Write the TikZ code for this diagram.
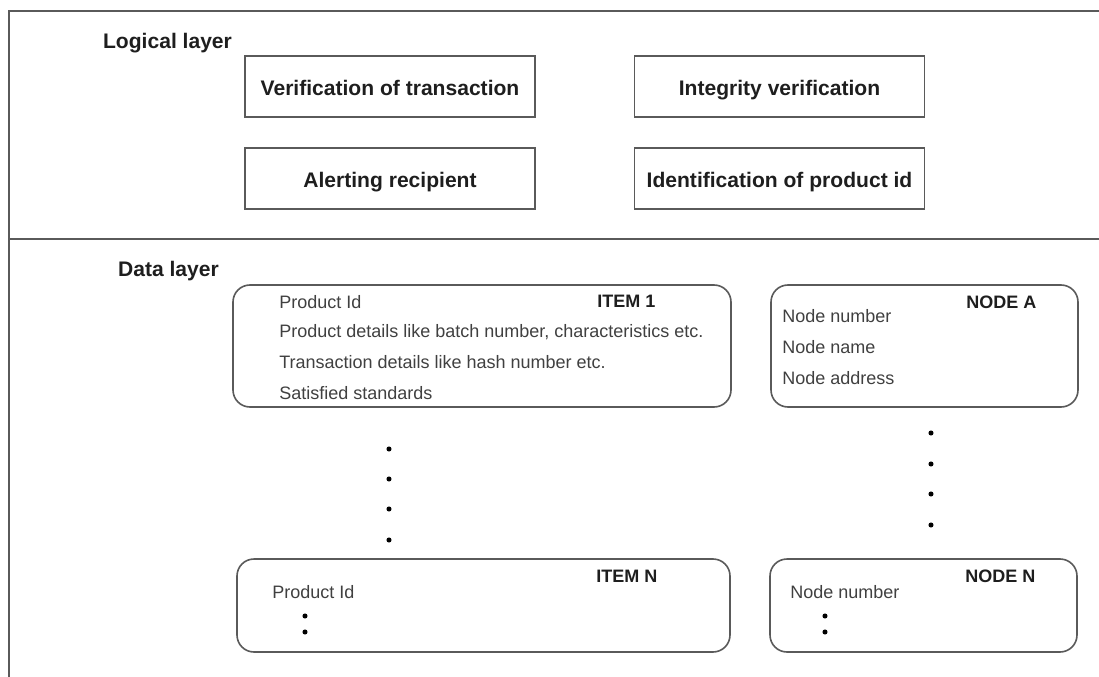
\documentclass[tikz,border=0pt]{standalone}
\usepackage{fontspec}
\setmainfont{Liberation Sans}
\definecolor{linegray}{HTML}{5A5A5A}
\definecolor{txtgray}{HTML}{404040}
\definecolor{hdrblack}{HTML}{1E1E1E}

\begin{document}
\begin{tikzpicture}[x=0.75pt,y=-0.75pt,
  logicbox/.style={draw=linegray,line width=1.2pt,minimum width=217.5pt,minimum height=45.75pt,
    font=\fontsize{15.8}{18}\selectfont\bfseries,text=hdrblack,inner sep=0pt,
    text height=17.5pt,text depth=3.3pt},
  recbox/.style={draw=linegray,line width=1.2pt,rounded corners=12.75pt,inner sep=0pt},
  hdr/.style={font=\fontsize{15.8}{18}\selectfont\bfseries,text=hdrblack,inner sep=0pt},
  tag/.style={font=\fontsize{13.5}{16}\selectfont\bfseries,text=hdrblack,inner sep=0pt,anchor=west},
  txt/.style={font=\fontsize{13.5}{16}\selectfont,text=txtgray,inner sep=0pt,anchor=west}]
  \useasboundingbox (0,0) rectangle (1099,677);
  % frame of the two layers
  \draw[linegray,line width=1.2pt](1099,11)--(9,11)--(9,677);
  \draw[linegray,line width=1.2pt](9,239)--(1099,239);
  % logical layer
  \node[hdr] (logic) at (167.5,43) {Logical layer};
  \node[logicbox] (verif) at (390,86.5) {Verification of transaction};
  \node[logicbox] (integ) at (779.5,86.5) {Integrity verification};
  \node[logicbox] (alert) at (390,178.5) {Alerting recipient};
  \node[logicbox] (ident) at (779.5,178.5) {Identification of product id};
  % data layer
  \node[hdr] (data) at (168.5,271) {Data layer};
  \node[recbox,minimum width=373.5pt,minimum height=91.5pt] (item1) at (482,346) {};
  \node[recbox,minimum width=230.25pt,minimum height=91.5pt] (nodea) at (924.5,346) {};
  \node[recbox,minimum width=369.75pt,minimum height=69.75pt] (itemn) at (483.5,605.5) {};
  \node[recbox,minimum width=230.25pt,minimum height=69.75pt] (noden) at (923.5,605.5) {};
  % item 1
  \node[tag] (item1tag) at (597,301) {ITEM 1};
  \node[txt] (pid1) at (279,302) {Product Id};
  \node[txt] (pdet1) at (279,332) {Product details like batch number, characteristics etc.};
  \node[txt] (tdet1) at (279,362) {Transaction details like hash number etc.};
  \node[txt] (std1) at (279,393) {Satisfied standards};
  % node A
  \node[tag] (nodeatag) at (966,302) {NODE A};
  \node[txt] (nnum1) at (782,316) {Node number};
  \node[txt] (nname1) at (782,347) {Node name};
  \node[txt] (naddr1) at (782,378) {Node address};
  % item N and node N
  \node[tag] (itemntag) at (596,576) {ITEM N};
  \node[txt] (pidn) at (272,592) {Product Id};
  \node[tag] (nodentag) at (965,576) {NODE N};
  \node[txt] (nnumn) at (790,592) {Node number};
  % dots
  \foreach \y in {449,479,509,540}
    \fill[black] (389,\y) circle[radius=1.9pt];
  \foreach \y in {433,464,494,525}
    \fill[black] (931,\y) circle[radius=1.9pt];
  \foreach \y in {616,632}{
    \fill[black] (305,\y) circle[radius=1.9pt];
    \fill[black] (825,\y) circle[radius=1.9pt];}
\end{tikzpicture}
\end{document}
